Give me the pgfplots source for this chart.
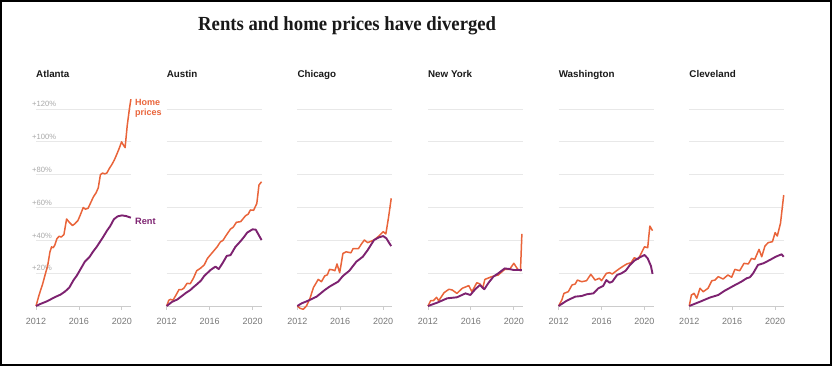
\documentclass[border=0pt]{standalone}
\usepackage{fontspec}
\setmainfont{Liberation Sans}
\newfontfamily\titlefont{Liberation Serif}
\usepackage{graphicx}
\usepackage{pgfplots}
\pgfplotsset{compat=1.18}
\definecolor{home}{HTML}{E9643A}
\definecolor{rent}{HTML}{7D2270}
\definecolor{gridc}{HTML}{E8E8E8}
\definecolor{axc}{HTML}{CCCCCC}
\definecolor{tickc}{HTML}{777777}
\definecolor{ytc}{HTML}{A8A8A8}

\pgfplotsset{
  panel/.style={
    scale only axis, width=95pt, height=210.1pt,
    xmin=2012, xmax=2020.85, ymin=0, ymax=128,
    anchor=south west, clip=false,
    axis x line*=bottom, axis y line*=left,
    x axis line style={axc, line width=0.8pt, -},
    y axis line style={draw=none},
    xtick={2012,2016,2020}, xticklabels={2012,2016,2020},
    ytick={20,40,60,80,100,120}, yticklabels={},
    ymajorgrids, major grid style={gridc, line width=0.8pt},
    major tick length=4pt, tick align=outside,
    xtick style={axc, line width=0.8pt},
    ytick style={draw=none},
    xticklabel style={font=\fontsize{9}{10}\selectfont, text=tickc, inner sep=0pt, anchor=north, yshift=-8pt},
    /pgf/number format/assume math mode=true,
  },
  hp/.style={home, line width=1.5pt, line join=round, no marks},
  rt/.style={rent, line width=1.9pt, line join=round, no marks},
}

\begin{document}
\begin{tikzpicture}[x=1pt,y=1pt]
\path[use as bounding box] (0pt,0pt) rectangle (832pt,366pt);
\draw[line width=2pt] (1pt,1pt) rectangle (830.5pt,365pt);

\node[anchor=base west, inner sep=0, text=black!90] at (198pt,335pt)
  {\scalebox{0.936}[1]{\titlefont\bfseries\fontsize{20}{24}\selectfont Rents and home prices have diverged}};

\foreach \nm/\xx in {Atlanta/36, Austin/166.65, Chicago/297.3, New York/427.95, Washington/558.6, Cleveland/689.25}{
  \node[anchor=base west, inner sep=0, font=\bfseries\fontsize{9.8}{11}\selectfont, text=black!90] at (\xx pt,288.5pt) {\nm};
}

% Atlanta
\begin{axis}[panel, at={(36pt,60pt)},
  yticklabels={+20\%,+40\%,+60\%,+80\%,+100\%,+120\%},
  yticklabel style={anchor=south west, inner sep=0pt, font=\fontsize{7.6}{8}\selectfont, text=ytc, xshift=0pt, yshift=2pt}]
\addplot[hp] coordinates {(2012,0)(2012.3,7)(2012.6,13)(2012.85,19)(2013.1,25)(2013.3,33)(2013.45,36)(2013.6,35.5)(2013.75,37)(2013.95,41)(2014.15,42.5)(2014.35,42)(2014.6,43.5)(2014.85,53)(2015.1,51)(2015.4,49)(2015.6,50)(2015.9,52)(2016.1,55)(2016.4,60)(2016.6,59)(2016.85,59.5)(2017.1,63)(2017.35,66.5)(2017.6,69)(2017.8,72)(2018.0,80)(2018.2,81)(2018.4,80.5)(2018.6,81)(2018.85,84)(2019.05,86)(2019.3,89)(2019.5,92)(2019.75,96)(2019.97,100)(2020.15,98)(2020.3,96.5)(2020.5,110)(2020.7,120)(2020.84,126)};
\addplot[rt] coordinates {(2012,0)(2012.5,1.5)(2013,2.8)(2013.5,4.5)(2013.9,5.8)(2014.3,7)(2014.7,8.8)(2015.1,11.2)(2015.5,15.8)(2015.8,18.5)(2016.1,21.9)(2016.55,27)(2017,30)(2017.3,33)(2017.65,36)(2018,39.5)(2018.25,42)(2018.65,46.3)(2018.9,48.5)(2019.25,52.8)(2019.6,54.6)(2020,55.2)(2020.4,54.8)(2020.84,53.8)};
\node[anchor=base west, inner sep=0, font=\bfseries\fontsize{9}{10}\selectfont, text=home] at (axis cs:2021.22,122.1) {Home};
\node[anchor=base west, inner sep=0, font=\bfseries\fontsize{9}{10}\selectfont, text=home] at (axis cs:2021.22,116.3) {prices};
\node[anchor=base west, inner sep=0, font=\bfseries\fontsize{9.2}{10}\selectfont, text=rent] at (axis cs:2021.22,49.9) {Rent};
\end{axis}

% Austin
\begin{axis}[panel, at={(166.65pt,60pt)}]
\addplot[hp] coordinates {(2012,0)(2012.2,3.5)(2012.35,4)(2012.6,3.6)(2012.9,7)(2013.15,10)(2013.4,10)(2013.6,10.8)(2013.9,13.8)(2014.2,13.6)(2014.5,17)(2014.8,21.5)(2015.15,23)(2015.5,25)(2015.8,29)(2016.25,32.5)(2016.7,36)(2017.0,39)(2017.25,40)(2017.5,42.6)(2017.95,46.9)(2018.2,48)(2018.5,51)(2018.9,51.4)(2019.1,53)(2019.35,55)(2019.6,56)(2019.8,58.5)(2020.1,58.3)(2020.4,62.5)(2020.6,73.7)(2020.84,75.7)};
\addplot[rt] coordinates {(2012,0)(2012.5,2.5)(2013,4)(2013.5,6.5)(2013.8,8)(2014.2,9.7)(2014.5,11.5)(2014.85,13.4)(2015.2,15.5)(2015.5,18.3)(2016.1,22)(2016.55,24)(2016.85,22.5)(2017.2,26)(2017.6,30.5)(2017.95,31)(2018.4,36)(2018.9,39.6)(2019.2,42)(2019.5,44.7)(2020,46.7)(2020.3,46.5)(2020.6,43)(2020.84,40.2)};
\end{axis}

% Chicago
\begin{axis}[panel, at={(297.3pt,60pt)}]
\addplot[hp] coordinates {(2012,0)(2012.25,-1.4)(2012.55,-2)(2012.85,0)(2013.15,4)(2013.5,11.2)(2013.95,16.2)(2014.25,14.8)(2014.55,18.3)(2014.8,19)(2015,22.3)(2015.3,22)(2015.5,21.5)(2015.7,25.6)(2015.95,20.3)(2016.25,32)(2016.55,33)(2017,32.4)(2017.2,35)(2017.7,35)(2018,38)(2018.25,40.2)(2018.55,38.6)(2019.15,40.2)(2019.6,42.6)(2020,45.3)(2020.25,43.9)(2020.5,54)(2020.75,65.6)};
\addplot[rt] coordinates {(2012,0)(2012.4,1.6)(2013,3.2)(2013.8,5.7)(2014.55,9.7)(2015,11.8)(2015.8,14.8)(2016.25,18.3)(2016.85,21.5)(2017.5,27)(2018.1,30)(2018.55,34)(2019.15,40.2)(2019.6,41.8)(2020,42.6)(2020.3,41.2)(2020.55,38.5)(2020.75,36.5)};
\end{axis}

% New York
\begin{axis}[panel, at={(427.95pt,60pt)}]
\addplot[hp] coordinates {(2012,0)(2012.25,3.2)(2012.5,3.2)(2012.8,5.3)(2013,3.2)(2013.5,8.1)(2013.95,10.2)(2014.25,9.8)(2014.7,7.7)(2015.2,10.8)(2015.8,12.4)(2016.1,8.7)(2016.55,14.2)(2016.85,13.4)(2017.1,10.8)(2017.3,16.2)(2017.95,17.9)(2018.55,18.9)(2019.15,22.3)(2019.6,22.3)(2020,26)(2020.4,22)(2020.62,21.6)(2020.75,43.9)};
\addplot[rt] coordinates {(2012,0)(2012.85,2)(2013.8,4.7)(2014.7,5.3)(2015.5,7.7)(2015.95,6.7)(2016.4,10.2)(2016.85,12.8)(2017.25,10.2)(2017.65,14.2)(2018.1,17.9)(2018.55,19.9)(2019.15,22.9)(2019.6,22.5)(2020,21.9)(2020.4,22)(2020.75,21.8)};
\end{axis}

% Washington
\begin{axis}[panel, at={(558.6pt,60pt)}]
\addplot[hp] coordinates {(2012,0)(2012.3,3.7)(2012.5,7.7)(2012.9,8.7)(2013.25,12.8)(2013.55,13.4)(2013.75,15.8)(2014.15,14.8)(2014.6,15.4)(2015,19.3)(2015.4,15.8)(2015.8,16.9)(2016,15.4)(2016.45,19.9)(2016.75,20.3)(2017,19.5)(2017.4,21.5)(2017.7,22.9)(2018.05,24.4)(2018.35,25.6)(2018.75,26.4)(2019.05,29.4)(2019.4,28.4)(2019.7,32.1)(2020,36.1)(2020.3,35.5)(2020.5,48.7)(2020.75,45.9)};
\addplot[rt] coordinates {(2012,0)(2012.75,3.2)(2013.55,5.7)(2014.15,6.1)(2014.6,7.1)(2015.25,7.7)(2015.7,10.8)(2016.15,12.2)(2016.45,15.8)(2016.75,14.2)(2017,14.8)(2017.45,18.9)(2017.85,19.9)(2018.25,21.5)(2018.6,24.6)(2019.05,27.6)(2019.55,29.6)(2020,31.1)(2020.3,29)(2020.6,24.4)(2020.75,19.5)};
\end{axis}

% Cleveland
\begin{axis}[panel, at={(689.25pt,60pt)}]
\addplot[hp] coordinates {(2012,0)(2012.2,6.7)(2012.45,7.7)(2012.7,4.7)(2013,10.8)(2013.3,8.7)(2013.75,10.8)(2014.1,15.4)(2014.4,15.8)(2014.7,17.9)(2015.15,16.4)(2015.6,18.9)(2015.95,17.5)(2016.25,22.3)(2016.7,21.5)(2017.1,26)(2017.5,25.6)(2017.8,29)(2018.1,28.4)(2018.5,34.5)(2018.75,30)(2019.05,36.5)(2019.35,38.6)(2019.75,39.2)(2020,44.7)(2020.2,42.6)(2020.5,50.4)(2020.8,67.6)};
\addplot[rt] coordinates {(2012,0)(2013,2.6)(2013.9,5.1)(2014.7,6.7)(2015.3,9.3)(2016.1,12.2)(2016.85,14.8)(2017.35,16.9)(2017.65,17.5)(2017.95,19.9)(2018.4,25)(2018.9,26)(2019.5,28)(2020.05,30)(2020.6,31.5)(2020.8,30)};
\end{axis}
\end{tikzpicture}
\end{document}
